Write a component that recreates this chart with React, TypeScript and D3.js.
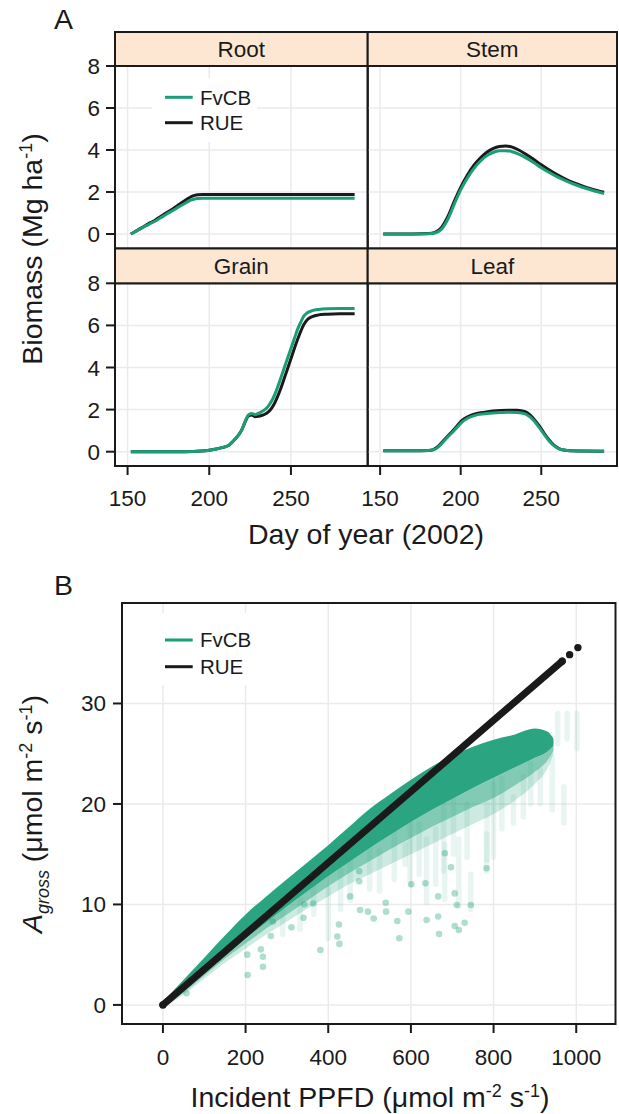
import React from "react";
import * as d3 from "d3";

const GREEN = "#1b9e77";
const BLACK = "#1a1a1a";
const STRIP = "#fde6d2";
const GRID = "#ebebeb";
const FONT = "'Liberation Sans', Arial, Helvetica, sans-serif";

// ---------- Panel A data ----------
const panelNames = ["Root", "Stem", "Grain", "Leaf"];
const dayTicks = [150, 200, 250];
const biomassTicks = [0, 2, 4, 6, 8];

const rootDays = [152, 155, 158, 161, 164, 167, 170, 174, 178, 182, 186, 189, 191, 193, 196, 200, 220, 250, 289];
const rootFvCB = [0, 0.12, 0.25, 0.38, 0.5, 0.62, 0.76, 0.95, 1.13, 1.32, 1.5, 1.62, 1.67, 1.69, 1.7, 1.7, 1.7, 1.7, 1.7];
const rootRUE = [0, 0.13, 0.27, 0.4, 0.54, 0.67, 0.82, 1.02, 1.22, 1.43, 1.64, 1.78, 1.84, 1.87, 1.88, 1.88, 1.88, 1.88, 1.88];

const stemDays = [152, 170, 180, 184, 188, 192, 196, 200, 204, 208, 212, 216, 220, 224, 228, 232, 236, 240, 245, 250, 255, 260, 265, 270, 275, 280, 285, 289];
const stemRUE = [0, 0, 0.02, 0.08, 0.3, 0.82, 1.55, 2.22, 2.78, 3.25, 3.6, 3.88, 4.07, 4.17, 4.19, 4.14, 4.0, 3.82, 3.57, 3.3, 3.05, 2.82, 2.62, 2.45, 2.3, 2.17, 2.06, 1.99];
const stemFvCB = [0, 0, 0.01, 0.05, 0.22, 0.7, 1.42, 2.1, 2.65, 3.1, 3.45, 3.72, 3.88, 3.96, 3.97, 3.92, 3.8, 3.65, 3.42, 3.16, 2.93, 2.72, 2.54, 2.38, 2.24, 2.12, 2.01, 1.93];

const grainDays = [152, 180, 190, 195, 200, 205, 209, 212, 214, 216, 218, 220, 222, 224, 226, 228, 230, 232, 234, 236, 238, 240, 242, 244, 246, 248, 250, 252, 254, 256, 258, 260, 263, 267, 272, 280, 289];
const grainFvCB = [0, 0, 0.01, 0.03, 0.07, 0.14, 0.22, 0.3, 0.45, 0.62, 0.8, 1.05, 1.45, 1.75, 1.82, 1.76, 1.82, 1.9, 2.0, 2.15, 2.38, 2.7, 3.1, 3.55, 4.0, 4.45, 4.9, 5.35, 5.8, 6.15, 6.45, 6.6, 6.7, 6.76, 6.79, 6.8, 6.8];
const grainRUE = [0, 0, 0.01, 0.03, 0.07, 0.14, 0.22, 0.3, 0.45, 0.62, 0.8, 1.05, 1.42, 1.7, 1.74, 1.66, 1.68, 1.72, 1.78, 1.88, 2.05, 2.3, 2.65, 3.05, 3.5, 3.95, 4.42, 4.88, 5.32, 5.72, 6.05, 6.27, 6.42, 6.5, 6.53, 6.55, 6.55];

const leafDays = [152, 170, 180, 183, 186, 189, 192, 195, 198, 201, 204, 207, 210, 215, 220, 225, 230, 235, 240, 243, 246, 249, 252, 255, 258, 261, 264, 268, 275, 289];
const leafRUE = [0.05, 0.05, 0.06, 0.1, 0.25, 0.5, 0.75, 0.98, 1.25, 1.5, 1.65, 1.75, 1.82, 1.88, 1.93, 1.96, 1.97, 1.97, 1.9, 1.75, 1.5, 1.2, 0.85, 0.55, 0.3, 0.15, 0.08, 0.04, 0.03, 0.02];
const leafFvCB = [0.05, 0.05, 0.06, 0.09, 0.22, 0.45, 0.7, 0.92, 1.18, 1.42, 1.58, 1.68, 1.75, 1.8, 1.84, 1.86, 1.87, 1.86, 1.8, 1.65, 1.42, 1.12, 0.8, 0.5, 0.28, 0.14, 0.08, 0.04, 0.03, 0.02];

// ---------- Panel B data ----------
const ppfdTicks = [0, 200, 400, 600, 800, 1000];
const agrossTicks = [0, 10, 20, 30];

const rueX = [0, 966, 984, 1004];
const rueY = [0, 34.2, 34.86, 35.56];

const bandX = [0, 50, 100, 150, 200, 250, 300, 350, 400, 450, 500, 550, 600, 650, 700, 750, 800, 850, 900, 930, 945];
const bandUpper = [0.3, 2.5, 4.7, 6.9, 9.0, 10.8, 12.5, 14.2, 15.9, 17.7, 19.5, 21.0, 22.4, 23.7, 24.8, 25.7, 26.4, 26.9, 27.5, 27.2, 26.5];
const bandCoreLower = [-0.3, 1.4, 3.2, 5.0, 6.6, 8.2, 9.8, 11.3, 12.8, 14.2, 15.6, 16.9, 18.2, 19.4, 20.5, 21.6, 22.6, 23.6, 24.6, 25.2, 25.8];
const bandMidLower = [-0.3, 1.2, 2.9, 4.6, 6.1, 7.6, 9.0, 10.4, 11.8, 13.1, 14.3, 15.5, 16.6, 17.7, 18.7, 19.7, 20.6, 21.8, 23.2, 24.3, 25.3];
const bandDiffuseLower = [-0.3, 1.0, 2.6, 4.2, 5.6, 7.0, 8.3, 9.6, 10.8, 12.0, 13.0, 14.0, 15.0, 16.0, 17.0, 18.0, 19.0, 20.3, 22.0, 23.5, 25.0];

const streakX = [1002, 978, 955, 942, 970, 913, 872, 848, 800, 784, 736, 703, 679, 638, 598, 586, 524, 453, 400, 332, 745, 783, 716, 682, 560, 500, 430, 365, 290, 620, 660, 820, 890];
const streakLo = [25.5, 26.5, 26, 19.4, 18.1, 20, 18.7, 18.1, 14.7, 14.4, 14.7, 15, 13.3, 10.2, 12, 14, 11.3, 10.4, 6.6, 7.5, 9.5, 13.3, 9.8, 10.5, 12.5, 11.5, 9.5, 9.0, 7.0, 13.0, 12.0, 17.5, 20.0];
const streakHi = [29, 29, 29, 24.7, 21.7, 23.4, 22.7, 20.7, 22, 20, 20, 21, 20.3, 16.5, 18, 16, 15.4, 15.4, 11.6, 10.5, 13, 17, 16.5, 16, 17.5, 15.5, 13.5, 12.0, 9.5, 18.0, 17.5, 22.5, 24.0];

const dotX = [381, 237, 242, 205, 204, 261, 266, 311, 340, 342, 364, 426, 422, 427, 477, 496, 510, 539, 540, 572, 601, 594, 567, 638, 635, 666, 666, 668, 706, 706, 716, 711, 730, 745, 682, 783, 697, 57, 242, 475, 475, 453];
const dotY = [5.47, 5.53, 3.8, 2.98, 5.0, 6.86, 8.3, 7.72, 8.68, 10.0, 10.1, 8.0, 6.8, 6.07, 9.44, 9.28, 8.6, 10.17, 9.28, 6.63, 12.0, 9.28, 8.35, 8.45, 12.1, 10.8, 8.8, 7.06, 11.1, 7.85, 7.45, 9.94, 8.18, 9.94, 15.1, 13.6, 13.7, 1.16, 4.8, 13.3, 12.3, 10.8];

const TICK_FS = 22.5;
const TITLE_FS = 28.5;

export default function App() {
  const W = 619;
  const H = 1114;

  // ---- Panel A layout ----
  const cols = [
    [115, 367.7],
    [367.7, 617],
  ];
  const rows = [
    { strip: 32, top: 66, bottom: 248.5, zero: 234 },
    { strip: 248.5, top: 283.3, bottom: 466, zero: 451.7 },
  ];
  const dayDomain: [number, number] = [142.3, 297];

  const panelData = [
    { name: panelNames[0], days: rootDays, fv: rootFvCB, rue: rootRUE, c: 0, r: 0 },
    { name: panelNames[1], days: stemDays, fv: stemFvCB, rue: stemRUE, c: 1, r: 0 },
    { name: panelNames[2], days: grainDays, fv: grainFvCB, rue: grainRUE, c: 0, r: 1 },
    { name: panelNames[3], days: leafDays, fv: leafFvCB, rue: leafRUE, c: 1, r: 1 },
  ];

  const panelsA = panelData.map((p) => {
    const x = d3.scaleLinear().domain(dayDomain).range(cols[p.c]);
    const row = rows[p.r];
    const y = d3.scaleLinear().domain([0, 8]).range([row.zero, row.top]);
    const mk = (vals: number[]) =>
      d3
        .line<number>()
        .x((_, i) => x(p.days[i]))
        .y((d) => y(d))
        .curve(d3.curveMonotoneX)(vals) || "";
    const x0 = cols[p.c][0];
    const x1 = cols[p.c][1];
    return (
      <g key={p.name}>
        {biomassTicks.filter((t) => t < 8).map((t) => (
          <line key={"h" + t} x1={x0} x2={x1} y1={y(t)} y2={y(t)} stroke={GRID} strokeWidth={1.5} />
        ))}
        {dayTicks.map((t) => (
          <line key={"v" + t} x1={x(t)} x2={x(t)} y1={row.top} y2={row.bottom} stroke={GRID} strokeWidth={1.5} />
        ))}
        {p.name === "Root" && (
          <g>
            <rect x={152} y={78} width={105} height={64} fill="#ffffff" />
            <line x1={165} x2={192.7} y1={97.3} y2={97.3} stroke={GREEN} strokeWidth={3} />
            <line x1={165} x2={192.7} y1={122.7} y2={122.7} stroke={BLACK} strokeWidth={3} />
            <text x={200} y={104.5} fontSize={20.5} fill={BLACK} fontFamily={FONT}>FvCB</text>
            <text x={200} y={130} fontSize={20.5} fill={BLACK} fontFamily={FONT}>RUE</text>
          </g>
        )}
        <path d={mk(p.rue)} fill="none" stroke={BLACK} strokeWidth={3} strokeLinejoin="round" />
        <path d={mk(p.fv)} fill="none" stroke={GREEN} strokeWidth={3} strokeLinejoin="round" />
        <rect x={x0} y={row.top} width={x1 - x0} height={row.bottom - row.top} fill="none" stroke={BLACK} strokeWidth={2} />
        <rect x={x0} y={row.strip} width={x1 - x0} height={row.top - row.strip} fill={STRIP} stroke={BLACK} strokeWidth={2} />
        <text
          x={(x0 + x1) / 2}
          y={(row.strip + row.top) / 2 + 8}
          textAnchor="middle"
          fontSize={TICK_FS}
          fill={BLACK}
          fontFamily={FONT}
        >
          {p.name}
        </text>
        {p.c === 0 &&
          biomassTicks.map((t) => (
            <g key={"yt" + t}>
              <line x1={x0 - 9} x2={x0} y1={y(t)} y2={y(t)} stroke={BLACK} strokeWidth={2} />
              <text x={x0 - 15} y={y(t) + 8} textAnchor="end" fontSize={TICK_FS} fill={BLACK} fontFamily={FONT}>
                {t}
              </text>
            </g>
          ))}
        {p.r === 1 &&
          dayTicks.map((t) => (
            <g key={"xt" + t}>
              <line x1={x(t)} x2={x(t)} y1={row.bottom} y2={row.bottom + 9} stroke={BLACK} strokeWidth={2} />
              <text x={x(t)} y={506} textAnchor="middle" fontSize={TICK_FS} fill={BLACK} fontFamily={FONT}>
                {t}
              </text>
            </g>
          ))}
      </g>
    );
  });

  // ---- Panel B layout ----
  const bx0 = 122;
  const bx1 = 615.5;
  const by0 = 603;
  const by1 = 1024;
  const xB = d3.scaleLinear().domain([-99, 1095]).range([bx0, bx1]);
  const yB = d3.scaleLinear().domain([-1.9, 40]).range([by1, by0]);

  const mkArea = (lower: number[], upper: number[]) =>
    d3
      .area<number>()
      .x((_, i) => xB(bandX[i]))
      .y0((_, i) => yB(lower[i]))
      .y1((d) => yB(d))
      .curve(d3.curveMonotoneX)(upper) || "";
  const areaCore = mkArea(bandCoreLower, bandUpper);
  const areaMid = mkArea(bandMidLower, bandCoreLower);
  const areaDiffuse = mkArea(bandDiffuseLower, bandMidLower);
  const rueLine =
    d3
      .line<number>()
      .x((_, i) => xB(rueX[i]))
      .y((d) => yB(d))(rueY.slice(0, 2)) || "";

  return (
    <svg
      width={W}
      height={H}
      viewBox={`0 0 ${W} ${H}`}
      style={{ position: "absolute", left: 0, top: 0, display: "block", background: "#ffffff" }}
      fontFamily={FONT}
    >
      <rect x={0} y={0} width={W} height={H} fill="#ffffff" />
      <text x={54} y={29} fontSize={TITLE_FS} fill={BLACK}>A</text>
      {panelsA}
      <text x={366} y={544} textAnchor="middle" fontSize={TITLE_FS} fill={BLACK}>
        Day of year (2002)
      </text>
      <text transform="translate(42,249) rotate(-90)" textAnchor="middle" fontSize={TITLE_FS} fill={BLACK}>
        Biomass (Mg ha
        <tspan fontSize={18} dy={-10}>-1</tspan>
        <tspan dy={10}>)</tspan>
      </text>

      <text x={54} y={595} fontSize={TITLE_FS} fill={BLACK}>B</text>
      {agrossTicks.map((t) => (
        <line key={"bh" + t} x1={bx0} x2={bx1} y1={yB(t)} y2={yB(t)} stroke={GRID} strokeWidth={1.5} />
      ))}
      {ppfdTicks.map((t) => (
        <line key={"bv" + t} x1={xB(t)} x2={xB(t)} y1={by0} y2={by1} stroke={GRID} strokeWidth={1.5} />
      ))}
      <rect x={150} y={613} width={108} height={72} fill="#ffffff" />
      <line x1={165} x2={192.7} y1={640} y2={640} stroke={GREEN} strokeWidth={3} />
      <line x1={165} x2={192.7} y1={666.7} y2={666.7} stroke={BLACK} strokeWidth={3} />
      <text x={200} y={647.3} fontSize={20.5} fill={BLACK}>FvCB</text>
      <text x={200} y={674} fontSize={20.5} fill={BLACK}>RUE</text>

      {streakX.map((s, i) => (
        <line
          key={"st" + i}
          x1={xB(s)}
          x2={xB(s)}
          y1={yB(streakLo[i])}
          y2={yB(streakHi[i])}
          stroke={GREEN}
          strokeWidth={5.5}
          strokeLinecap="round"
          opacity={0.09}
        />
      ))}
      <path d={areaDiffuse} fill={GREEN} opacity={0.22} />
      <path d={areaMid} fill={GREEN} opacity={0.55} />
      <path d={areaCore} fill={GREEN} opacity={0.93} />
      {dotX.map((dx, i) => (
        <circle key={"dt" + i} cx={xB(dx)} cy={yB(dotY[i])} r={3.3} fill={GREEN} opacity={0.35} />
      ))}
      <path d={rueLine} fill="none" stroke={BLACK} strokeWidth={7} strokeLinecap="round" />
      {rueX.map((rx, i) => (
        <circle key={"ru" + i} cx={xB(rx)} cy={yB(rueY[i])} r={3.7} fill={BLACK} />
      ))}

      <rect x={bx0} y={by0} width={bx1 - bx0} height={by1 - by0} fill="none" stroke={BLACK} strokeWidth={2} />
      {agrossTicks.map((t) => (
        <g key={"byt" + t}>
          <line x1={bx0 - 9} x2={bx0} y1={yB(t)} y2={yB(t)} stroke={BLACK} strokeWidth={2} />
          <text x={bx0 - 16} y={yB(t) + 8} textAnchor="end" fontSize={TICK_FS} fill={BLACK}>
            {t}
          </text>
        </g>
      ))}
      {ppfdTicks.map((t) => (
        <g key={"bxt" + t}>
          <line x1={xB(t)} x2={xB(t)} y1={by1} y2={by1 + 9} stroke={BLACK} strokeWidth={2} />
          <text x={xB(t)} y={1065} textAnchor="middle" fontSize={TICK_FS} fill={BLACK}>
            {t}
          </text>
        </g>
      ))}
      <text x={370} y={1107} textAnchor="middle" fontSize={TITLE_FS} fill={BLACK}>
        Incident PPFD (μmol m<tspan fontSize={18} dy={-10}>-2</tspan>
        <tspan dy={10}> s</tspan>
        <tspan fontSize={18} dy={-10}>-1</tspan>
        <tspan dy={10}>)</tspan>
      </text>
      <text transform="translate(42,814) rotate(-90)" textAnchor="middle" fontSize={TITLE_FS} fill={BLACK}>
        <tspan fontStyle="italic">A</tspan>
        <tspan fontStyle="italic" fontSize={18} dy={7}>gross</tspan>
        <tspan dy={-7}> (μmol m</tspan>
        <tspan fontSize={18} dy={-10}>-2</tspan>
        <tspan dy={10}> s</tspan>
        <tspan fontSize={18} dy={-10}>-1</tspan>
        <tspan dy={10}>)</tspan>
      </text>
    </svg>
  );
}
